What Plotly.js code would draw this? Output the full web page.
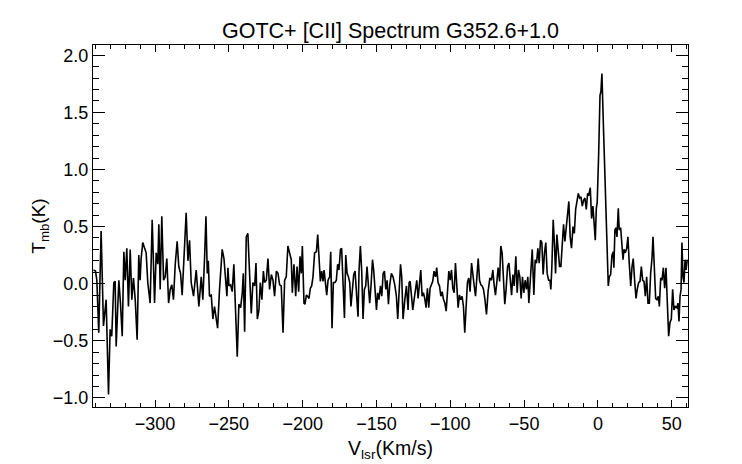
<!DOCTYPE html>
<html>
<head>
<meta charset="utf-8">
<script src="https://cdn.plot.ly/plotly-3.0.1.min.js"></script>
<style>html,body{margin:0;padding:0;background:#fff;}#chart{width:742px;height:464px;}</style>
</head>
<body>
<div id="chart"></div>
<script>
// Velocity channels (km/s) and main-beam temperature (K), by segment
var vel1 = [-341.7,-340.3,-339.4,-338.1,-336.5,-334.9,-333.1,-331.5,-330.4,-329.3,-327.9,-327.0,-326.3,-324.5,-323.4,-322.2,-321.1,-320.2,-319.1,-318.0,-316.8,-315.7,-314.6,-313.4,-312.1,-311.0,-310.1,-309.4,-308.3,-307.1,-306.0,-304.9,-303.3,-301.9,-300.3,-299.2,-298.1,-297.4,-296.5,-295.4,-294.2,-293.1,-292.0,-290.8,-289.7,-288.6,-287.5,-286.3,-285.0,-283.9,-282.7,-281.6,-280.2,-278.9,-277.7,-276.6,-275.5,-273.9,-272.1,-270.3];
var tmb1 = [0.12,0.11,0.03,-0.43,0.46,-0.37,-0.14,-0.97,-0.40,-0.46,0.01,0.02,-0.55,0.03,-0.17,-0.46,0.28,0.03,0.31,-0.20,0.30,-0.14,0.05,-0.14,-0.49,0.25,0.03,0.22,0.36,0.31,0.27,0.01,-0.17,0.56,-0.17,0.27,0.17,0.52,-0.05,0.59,0.03,0.06,0.22,-0.17,-0.05,-0.01,-0.14,0.17,0.37,0.15,0.09,-0.10,0.33,0.62,0.20,0.38,0.01,-0.11,0.12,-0.20];

var vel2 = [-268.7,-267.6,-266.4,-265.5,-264.6,-263.9,-263.1,-261.9,-260.8,-259.7,-258.5,-257.6,-256.3,-254.5,-253.3,-252.2,-251.3,-250.6,-249.9,-248.8,-247.7,-246.6,-245.6,-244.3,-243.2,-242.0,-240.9,-240.2,-239.3,-238.2,-237.1,-235.9,-234.8,-233.7,-232.5,-231.6,-230.7,-229.6,-228.7,-227.6,-226.6,-225.8,-224.6,-223.5,-222.4,-221.2,-220.1,-219.0,-217.8,-216.7,-215.6,-214.5,-213.3,-212.2,-211.1,-210.0,-208.8,-207.7,-207.0,-205.9,-204.7,-203.8,-202.7,-201.8,-200.9,-200.2,-199.1];
var tmb2 = [0.06,-0.14,0.24,0.59,0.09,0.20,-0.11,-0.10,-0.31,-0.20,-0.31,-0.39,-0.05,0.30,0.22,0.01,-0.11,0.14,-0.02,-0.01,-0.07,0.17,-0.14,-0.64,-0.18,-0.21,-0.08,0.09,-0.42,0.41,0.44,0.01,-0.26,0.01,-0.02,0.18,-0.31,-0.23,0.01,-0.14,0.11,0.01,0.03,0.22,-0.05,0.08,0.03,-0.11,0.11,0.09,-0.01,-0.02,-0.43,0.03,0.06,0.33,0.25,0.21,-0.08,0.17,-0.11,0.15,-0.07,0.24,0.09,0.33,-0.17];

var vel3 = [-198.4,-197.5,-196.6,-195.7,-194.8,-193.9,-193.0,-191.9,-190.7,-189.8,-188.9,-188.0,-187.1,-186.2,-185.5,-184.6,-183.7,-182.8,-181.7,-181.0,-180.1,-179.2,-178.1,-177.2,-176.3,-175.4,-174.4,-173.6,-172.7,-171.7,-170.8,-169.9,-169.0,-168.1,-167.3,-166.3,-165.4,-164.5,-163.6,-162.5,-161.8,-160.9,-160.0,-159.1,-158.2,-157.3,-156.4,-155.4,-154.6,-153.7,-152.7,-151.9,-151.0,-150.0,-149.2,-148.3,-147.3,-146.4,-145.5,-144.6,-143.7,-142.8,-141.9,-141.0,-139.9,-138.8,-137.6,-136.5,-135.6,-134.7,-133.7,-132.9,-132.0,-130.8,-129.7,-128.6,-127.9];
var tmb3 = [-0.18,-0.10,-0.11,-0.13,-0.04,-0.02,0.06,0.27,0.28,0.43,0.18,0.02,0.11,0.02,0.12,0.02,-0.10,0.03,0.06,0.28,-0.39,0.01,0.01,0.03,0.17,0.12,0.30,0.31,0.03,-0.30,0.25,0.09,0.06,0.01,-0.20,-0.01,0.08,0.11,-0.08,-0.29,0.12,0.33,0.11,-0.31,-0.05,-0.02,0.15,0.01,-0.17,-0.02,0.21,0.12,-0.07,-0.23,-0.08,-0.14,-0.02,-0.11,0.09,0.11,-0.05,0.03,-0.18,-0.01,0.09,0.06,-0.01,-0.11,-0.31,-0.02,0.17,0.06,-0.31,-0.14,-0.02,-0.23,0.01];

var vel4 = [-127.2,-126.3,-125.4,-124.5,-123.6,-122.7,-121.8,-120.9,-120.0,-119.1,-118.2,-117.3,-116.4,-115.5,-114.6,-113.7,-112.7,-111.9,-111.0,-110.0,-109.2,-108.3,-107.3,-106.4,-105.5,-104.6,-103.7,-102.8,-101.9,-101.0,-100.1,-99.2,-98.3,-97.4,-96.5,-95.6,-94.7,-93.8,-92.9,-92.0,-91.1,-90.2,-89.3,-88.4,-87.5,-86.6,-85.6,-84.7,-83.8,-82.9,-82.0,-81.1,-80.2,-79.3,-78.4,-77.5,-76.6,-75.5,-74.4,-73.2,-72.1,-71.2,-70.3,-69.4,-68.5,-67.6,-66.6,-65.8,-64.9,-63.9,-63.1,-62.2,-61.2,-60.3,-59.5,-58.5,-57.6,-56.7];
var tmb4 = [0.02,-0.10,-0.23,-0.14,-0.05,0.03,-0.13,-0.02,0.12,-0.11,-0.08,-0.13,-0.21,-0.04,-0.21,-0.04,-0.01,0.02,0.11,0.06,0.14,0.01,-0.02,-0.11,-0.07,-0.14,-0.17,-0.24,-0.07,0.11,0.03,0.12,-0.04,-0.08,0.18,-0.05,-0.21,-0.10,-0.14,-0.11,-0.20,-0.43,-0.15,0.01,0.05,-0.07,0.18,0.05,-0.02,-0.11,0.06,0.22,0.03,-0.01,-0.02,-0.05,-0.13,-0.27,-0.07,0.05,0.03,0.12,-0.01,-0.10,0.01,0.14,0.02,0.33,0.27,0.06,-0.18,-0.05,0.15,0.18,0.05,-0.10,0.08,-0.02];

var vel5 = [-55.6,-54.7,-53.8,-52.9,-52.0,-51.1,-50.2,-49.3,-48.4,-47.5,-46.8,-45.6,-44.5,-43.4,-42.5,-41.6,-40.7,-39.8,-38.9,-38.0,-37.1,-36.2,-35.3,-34.4,-33.4,-32.5,-31.9,-31.2,-30.3,-29.4,-28.7,-27.8,-26.9,-26.0,-25.1,-24.2,-23.3,-22.4,-21.5,-20.6,-19.7,-18.8,-17.9,-16.9,-16.0,-15.1,-14.2,-13.3,-12.4,-11.5,-10.6,-9.7,-8.8,-7.9,-7.0,-6.1,-5.2,-4.3,-3.4,-2.5,-1.8,-1.1,-0.5,0.5,1.4,2.0,2.7,3.6,4.5,5.4,6.3,7.0];
var tmb5 = [0.24,-0.08,0.12,0.06,-0.13,0.06,-0.08,0.03,-0.05,0.06,-0.17,0.06,0.30,-0.10,0.21,0.18,0.31,0.18,0.38,0.36,0.08,0.27,0.36,0.09,0.03,0.03,-0.05,0.15,0.56,0.33,0.09,0.43,0.27,0.15,0.15,0.38,0.52,0.37,0.50,0.56,0.72,0.41,0.31,0.50,0.44,0.65,0.73,0.79,0.75,0.76,0.68,0.73,0.75,0.65,0.79,0.78,0.84,0.57,0.68,0.50,0.38,0.66,0.71,1.14,1.65,1.68,1.84,1.43,1.04,0.66,0.27,-0.02];

var vel6 = [7.7,8.6,9.5,10.4,10.8,11.5,12.2,12.9,13.8,14.4,15.4,16.1,17.0,17.6,18.5,19.5,20.3,21.2,22.2,23.1,23.9,24.9,25.8,26.6,27.6,28.5,29.4,30.3,31.2,32.1,33.0,33.9,34.8,35.7,36.6,37.3,38.2,39.1,40.0,40.9,41.6,42.5,43.4,44.3,45.2,46.1,47.0,47.9,48.8,49.7,50.6,51.5,52.4,53.4,54.2,54.9,55.6,56.3,56.9,57.6,58.3,59.0,59.7,60.5];
var tmb6 = [0.06,0.08,0.25,0.28,0.14,0.47,0.49,0.41,0.66,0.47,0.49,0.38,0.21,0.30,0.27,0.31,0.41,0.18,-0.02,0.15,0.22,0.02,-0.13,-0.05,0.01,0.02,0.15,0.03,0.02,-0.11,0.06,-0.17,-0.17,0.09,0.22,0.41,0.09,-0.13,-0.14,-0.11,-0.20,0.05,0.03,0.14,-0.04,0.14,-0.17,-0.46,-0.34,-0.31,-0.05,-0.23,-0.20,-0.21,-0.17,-0.33,-0.11,-0.05,0.36,0.06,0.01,0.21,0.12,0.21];

var xTickVals = [-300,-250,-200,-150,-100,-50,0,50];
var yTickVals = [-1.0,-0.5,0.0,0.5,1.0,1.5,2.0];
var titleText = 'GOTC+ [CII] Spectrum G352.6+1.0';
var xTitle = 'V<sub>lsr</sub>(Km/s)';
var yTitle = 'T<sub>mb</sub>(K)';

var vel = [].concat(vel1, vel2, vel3, vel4, vel5, vel6);
var tmb = [].concat(tmb1, tmb2, tmb3, tmb4, tmb5, tmb6);

var FONT = 'Liberation Sans, Arial, Helvetica, sans-serif';

var trace = {
  x: vel, y: tmb, type: 'scatter', mode: 'lines',
  line: {color: '#000000', width: 1.6},
  hoverinfo: 'skip'
};

var axisCommon = {
  showgrid: false, zeroline: false,
  showline: true, linecolor: '#000', linewidth: 1,
  mirror: 'allticks', ticks: 'inside', tickcolor: '#000', tickwidth: 1,
  tickfont: {family: FONT, size: 18, color: '#000'}
};

var layout = {
  width: 742, height: 464,
  margin: {l: 93, r: 54, t: 45, b: 57},
  paper_bgcolor: '#fff', plot_bgcolor: '#fff',
  showlegend: false,
  title: {text: titleText, font: {family: FONT, size: 21.5, color: '#000'},
          x: 0.5, xref: 'paper', y: 1 - 30/464, yref: 'container', yanchor: 'middle'},
  xaxis: Object.assign({}, axisCommon, {
    range: [-342, 61], tickvals: xTickVals, ticklen: 7,
    minor: {dtick: 10, ticks: 'inside', ticklen: 4, tickcolor: '#000', tickwidth: 1},
    title: {text: xTitle, font: {family: FONT, size: 19.5, color: '#000'}, standoff: 8}
  }),
  yaxis: Object.assign({}, axisCommon, {
    range: [-1.08, 2.09], tickvals: yTickVals, tickformat: '.1f', ticklen: 12,
    minor: {dtick: 0.1, ticks: 'inside', ticklen: 6, tickcolor: '#000', tickwidth: 1},
    title: {text: yTitle, font: {family: FONT, size: 19, color: '#000'}, standoff: 2}
  })
};

Plotly.newPlot('chart', [trace], layout, {displayModeBar: false, staticPlot: true});
</script>
</body>
</html>
